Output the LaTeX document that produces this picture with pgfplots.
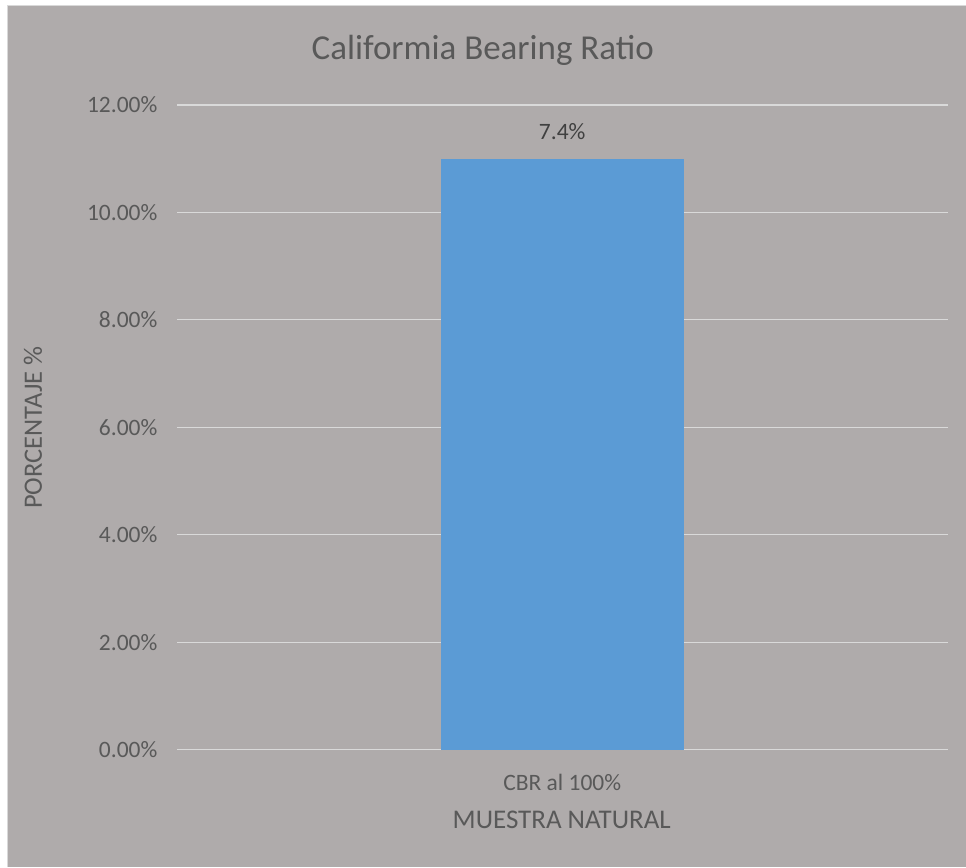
\documentclass[border=0pt]{standalone}
\usepackage{pgfplots}
\pgfplotsset{compat=1.18}
\usepackage{fontspec}
\setmainfont{Carlito}
\definecolor{chartbg}{HTML}{AFABAB}
\definecolor{gridc}{HTML}{D9D9D9}
\definecolor{barc}{HTML}{5B9BD5}
\definecolor{txt}{HTML}{595959}
\definecolor{lbl}{HTML}{404040}
\begin{document}
\begin{tikzpicture}[x=1pt,y=1pt]
  % chart area
  \fill[white] (0,0) rectangle (966,867);
  \fill[chartbg] (8,0) rectangle (966,861);
  \draw[gridc,line width=1pt] (8,0) -- (8,861) -- (966,861);
  \begin{axis}[
    at={(177pt,117pt)}, anchor=south west,
    scale only axis, width=771pt, height=645pt,
    xmin=-0.5, xmax=0.5, ymin=0, ymax=12,
    ytick={0,2,...,12}, xtick={0}, xticklabels={CBR al 100\%},
    axis line style={draw=none}, major tick length=0pt,
    ymajorgrids, grid style={gridc, line width=1.3pt},
    /pgf/number format/assume math mode=true,
    yticklabel={\pgfmathprintnumber[fixed,fixed zerofill,precision=2]{\tick}\%},
    yticklabel style={font=\fontsize{23.5}{28}\selectfont, text=txt, anchor=east, xshift=-16pt},
    xticklabel style={font=\fontsize{23.5}{28}\selectfont, text=txt, yshift=-21pt},
    ybar, bar width=243pt,
    point meta=explicit symbolic,
    nodes near coords,
    nodes near coords style={font=\fontsize{23.5}{28}\selectfont, text=lbl, yshift=15pt},
  ]
    \addplot[fill=barc, draw=none] coordinates {(0,11) [7.4\%]};
  \end{axis}
  \node[text=txt, font=\fontsize{35}{42}\selectfont] at (483,817) {Califormia Bearing Ratio};
  \node[text=txt, font=\fontsize{27}{32}\selectfont] at (562,47) {MUESTRA NATURAL};
  \node[text=txt, font=\fontsize{26.5}{32}\selectfont, rotate=90] at (33,439) {PORCENTAJE \%};
\end{tikzpicture}
\end{document}
